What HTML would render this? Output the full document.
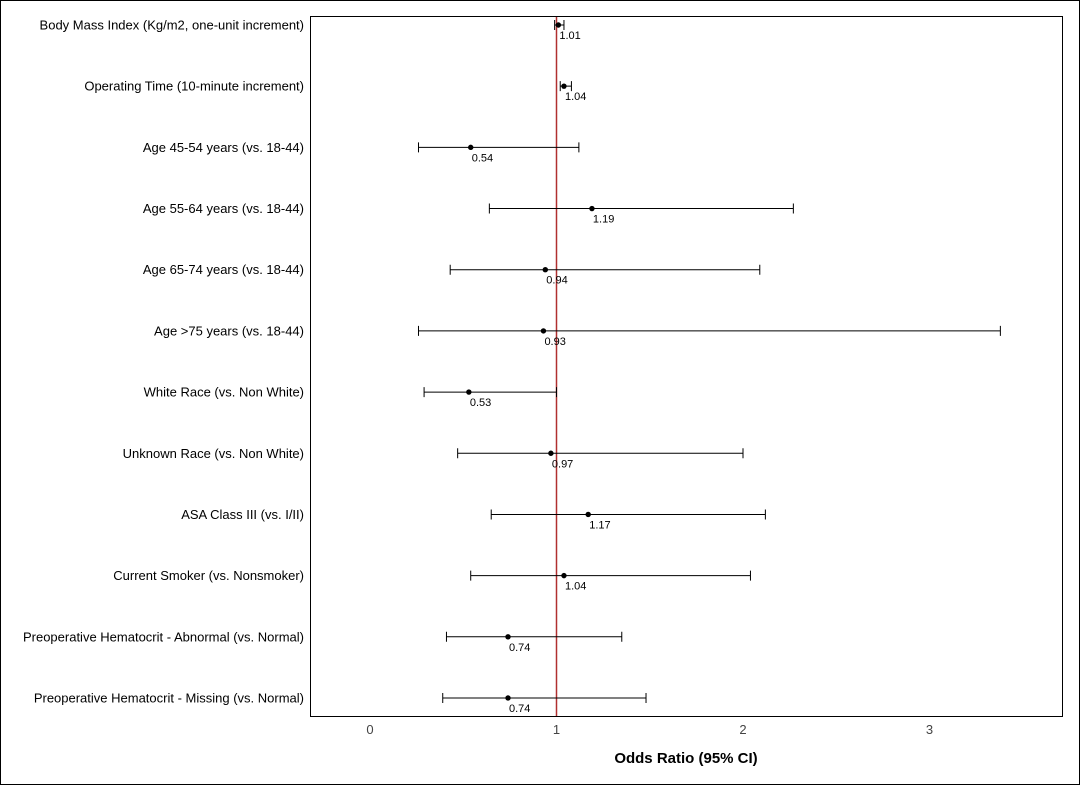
<!DOCTYPE html>
<html><head><meta charset="utf-8"><style>
body{margin:0;background:#fff;font-family:"Liberation Sans",Arial,sans-serif}
svg{display:block}
</style></head><body>
<svg width="1080" height="785" xmlns="http://www.w3.org/2000/svg">
<rect x="0.5" y="0.5" width="1079" height="784" fill="#fff" stroke="#000"/>
<rect x="310.5" y="16.5" width="752" height="700" fill="none" stroke="#000"/>
<g id="g"></g>
</svg>
<script>
const labels=["Body Mass Index (Kg/m2, one-unit increment)","Operating Time (10-minute increment)","Age 45-54 years (vs. 18-44)","Age 55-64 years (vs. 18-44)","Age 65-74 years (vs. 18-44)","Age >75 years (vs. 18-44)","White Race (vs. Non White)","Unknown Race (vs. Non White)","ASA Class III (vs. I/II)","Current Smoker (vs. Nonsmoker)","Preoperative Hematocrit - Abnormal (vs. Normal)","Preoperative Hematocrit - Missing (vs. Normal)"];
const oddsRatio=[1.01,1.04,0.54,1.19,0.94,0.93,0.53,0.97,1.17,1.04,0.74,0.74];
const lowerCI=[0.99,1.02,0.26,0.64,0.43,0.26,0.29,0.47,0.65,0.54,0.41,0.39];
const upperCI=[1.04,1.08,1.12,2.27,2.09,3.38,1.00,2.00,2.12,2.04,1.35,1.48];
const printed=["1.01","1.04","0.54","1.19","0.94","0.93","0.53","0.97","1.17","1.04","0.74","0.74"];
const ticks=[0,1,2,3];
const xs=v=>370+v*186.5;
const ys=i=>25+i*61.18;
const NS="http://www.w3.org/2000/svg";
const g=document.getElementById('g');
function mk(t,a){const e=document.createElementNS(NS,t);for(const k in a)e.setAttribute(k,a[k]);g.appendChild(e);return e;}
ticks.forEach(t=>{const e=mk('text',{x:xs(t),y:734,'text-anchor':'middle','font-size':13,fill:'#444'});e.textContent=t;

});
const ref=mk('line',{x1:xs(1),x2:xs(1),y1:17,y2:716,stroke:'#b03030','stroke-width':1.5});


labels.forEach((l,i)=>{const y=ys(i);
const t=mk('text',{x:304,y:y+4.5,'text-anchor':'end','font-size':13,fill:'#000'});t.textContent=l;


const ci=mk('path',{d:`M${xs(lowerCI[i])},${y}H${xs(upperCI[i])}M${xs(lowerCI[i])},${y-5}V${y+5}M${xs(upperCI[i])},${y-5}V${y+5}`,stroke:'#000','stroke-width':1,fill:'none'});


const p=mk('circle',{cx:xs(oddsRatio[i]),cy:y,r:2.7,fill:'#000'});


const v=mk('text',{x:xs(oddsRatio[i])+1,y:y+14,'font-size':11,fill:'#000'});v.textContent=printed[i];


});
const at=mk('text',{x:686,y:763,'text-anchor':'middle','font-size':15,'font-weight':'bold',fill:'#000'});at.textContent="Odds Ratio (95% CI)";


</script>
</body></html>
